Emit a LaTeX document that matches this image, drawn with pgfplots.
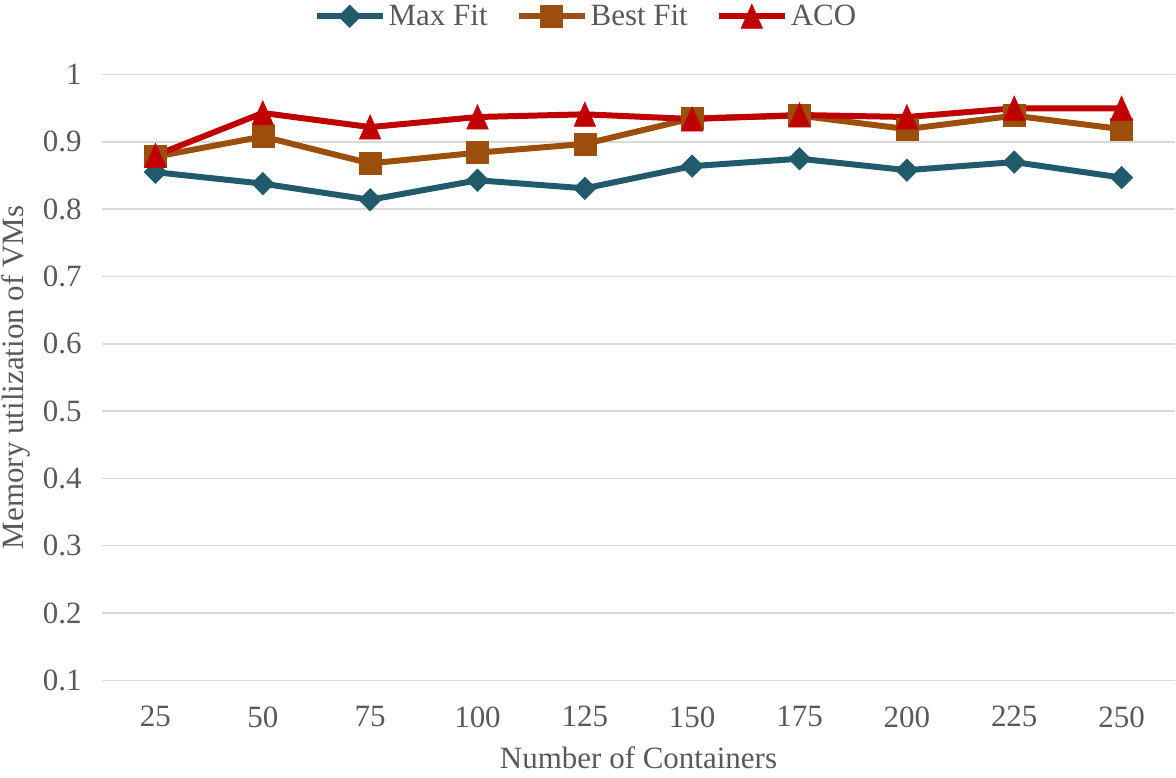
\documentclass[border=0pt]{standalone}
\usepackage{fontspec}
\setmainfont{Liberation Serif}
\usepackage{pgfplots}
\pgfplotsset{compat=1.18}
\definecolor{maxc}{HTML}{215A6A}
\definecolor{bestc}{HTML}{9C4E0B}
\definecolor{acoc}{HTML}{C00000}
\definecolor{textgrey}{HTML}{595959}
\definecolor{gridgrey}{HTML}{D9D9D9}
\newcommand{\bigfont}{\fontsize{31}{31}\selectfont}
\begin{document}
\begin{tikzpicture}
\begin{axis}[
  scale only axis, width=1074pt, height=606pt,
  xmin=-0.5, xmax=9.5, ymin=0.1, ymax=1,
  clip=false,
  xtick={0,...,9},
  xticklabels={25,50,75,100,125,150,175,200,225,250},
  ytick={0.1,0.2,0.3,0.4,0.5,0.6,0.7,0.8,0.9,1},
  yticklabels={0.1,0.2,0.3,0.4,0.5,0.6,0.7,0.8,0.9,1},
  /pgf/number format/assume math mode=true,
  ymajorgrids,
  major grid style={draw=gridgrey, line width=1.5pt},
  axis line style={draw=none},
  major tick length=0pt,
  tick label style={font=\bigfont, text=textgrey, inner sep=0pt},
  xticklabel style={anchor=north, yshift=-26pt},
  yticklabel style={anchor=east, xshift=-20pt},
  label style={font=\bigfont, text=textgrey},
  xlabel={Number of Containers},
  xlabel style={at={(axis description cs:0.5,-0.145)}, anchor=base, inner sep=0pt, text depth=9pt},
  ylabel={Memory utilization of VMs},
  ylabel style={at={(axis description cs:-0.095,0.5)}, anchor=north, inner sep=2pt},
  legend columns=-1,
  legend style={at={(0.4515,1.0965)}, anchor=center, draw=none, fill=none,
    font=\bigfont, text=textgrey, inner xsep=0pt, inner ysep=4pt,
    nodes={inner xsep=3pt, inner ysep=0pt},
    /tikz/every even column/.append style={column sep=25pt}},
  legend image code/.code={\draw[mark repeat=2,mark phase=2,#1] plot coordinates {(0pt,0pt) (33pt,0pt) (66pt,0pt)};},
]
\addplot[color=maxc, line width=6pt, mark=square*, mark size=8pt,
  mark options={solid, rotate=45, line width=0.5pt, fill=maxc}]
  coordinates {(0,0.855) (1,0.838) (2,0.814) (3,0.843) (4,0.831) (5,0.864) (6,0.875) (7,0.858) (8,0.870) (9,0.847)};
\addlegendentry{Max Fit}
\addplot[color=bestc, line width=6pt, mark=square*, mark size=11pt,
  mark options={solid, line width=0.5pt, fill=bestc}]
  coordinates {(0,0.878) (1,0.908) (2,0.868) (3,0.884) (4,0.897) (5,0.935) (6,0.939) (7,0.919) (8,0.939) (9,0.919)};
\addlegendentry{Best Fit}
\addplot[color=acoc, line width=6pt, mark=triangle*, mark size=12.5pt,
  mark options={solid, line width=0.5pt, fill=acoc, yscale=1.3, yshift=-3pt}]
  coordinates {(0,0.880) (1,0.943) (2,0.922) (3,0.937) (4,0.941) (5,0.934) (6,0.940) (7,0.937) (8,0.950) (9,0.950)};
\addlegendentry{ACO}
\end{axis}
\end{tikzpicture}
\end{document}
